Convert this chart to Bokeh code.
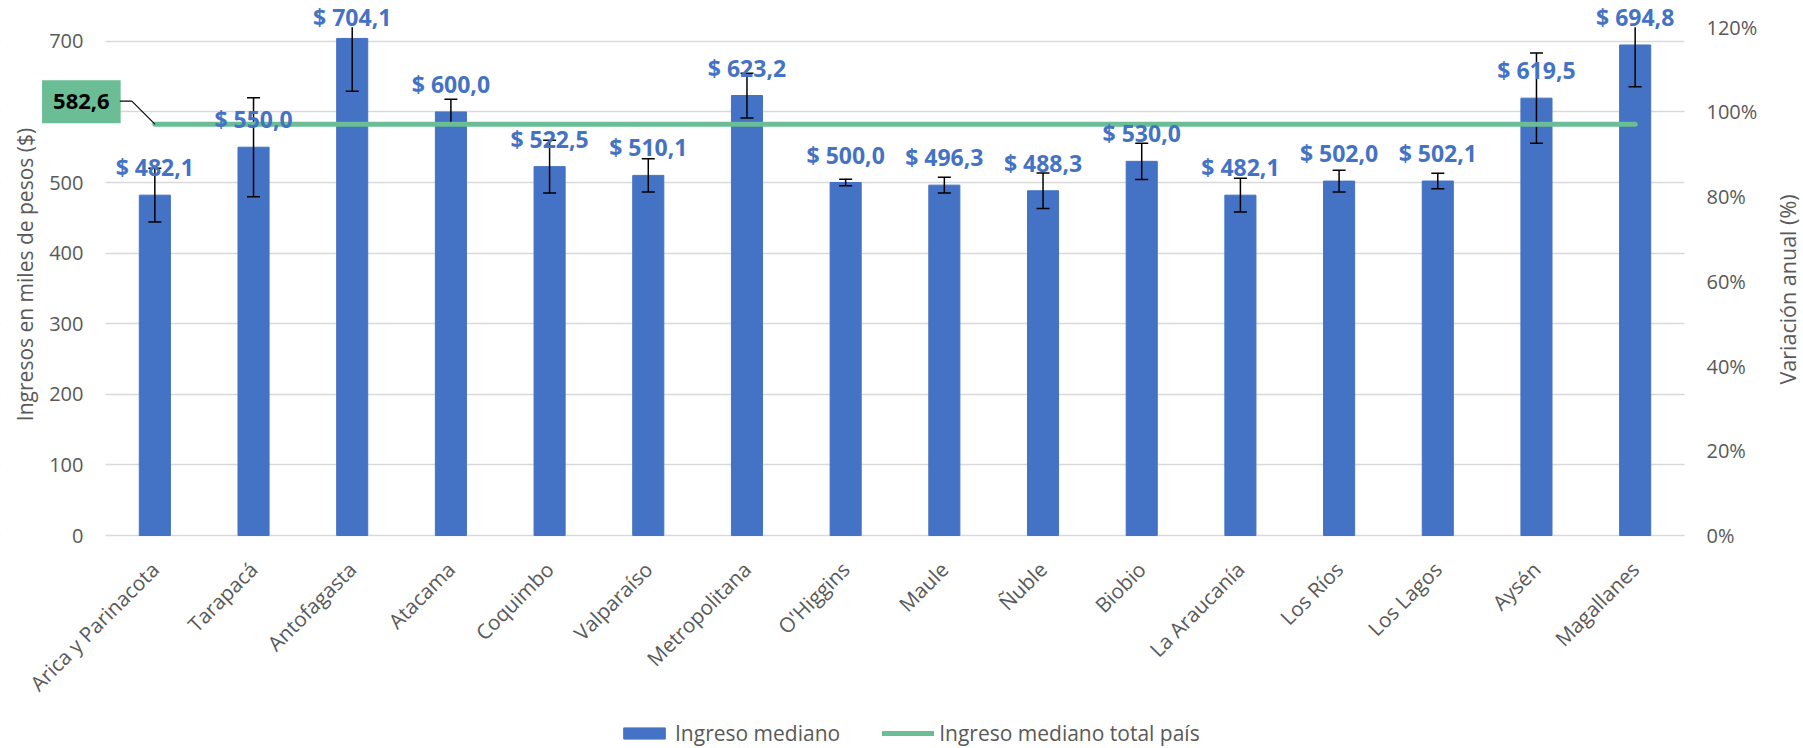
import math
from bokeh.plotting import figure
from bokeh.models import (ColumnDataSource, Range1d, LinearAxis, FixedTicker, BoxAnnotation,
                          NumeralTickFormatter, LabelSet, Label, Arrow, Legend, LegendItem)
from bokeh.embed import file_html
from bokeh.resources import INLINE
from bokeh.core.properties import value

# ---------------- data ----------------
regions = ["Arica y Parinacota", "Tarapacá", "Antofagasta", "Atacama", "Coquimbo",
           "Valparaíso", "Metropolitana", "O'Higgins", "Maule", "Ñuble", "Biobio",
           "La Araucanía", "Los Ríos", "Los Lagos", "Aysén", "Magallanes"]
median_income = [482.1, 550.0, 704.1, 600.0, 522.5, 510.1, 623.2, 500.0,
                 496.3, 488.3, 530.0, 482.1, 502.0, 502.1, 619.5, 694.8]
error_margin = [38.0, 70.0, 75.0, 18.0, 37.5, 23.6, 31.7, 4.7,
                11.0, 25.0, 25.7, 24.0, 15.5, 11.0, 64.0, 59.0]
national_median = 582.6
left_ticks = [0, 100, 200, 300, 400, 500, 600, 700]
right_ticks = [0.0, 0.2, 0.4, 0.6, 0.8, 1.0, 1.2]
axis_max = 720          # value-axis maximum (error bars are cut there)
pct_max = 1.2           # secondary axis maximum

# ---------------- style / layout ----------------
BLUE = "#4472C4"
GREEN = "#6ABD95"
GRID = "#D9D9D9"
TXT = "#595959"
FONT = "Open Sans"

W, H = 1803, 748
PLOT_L, PLOT_R = 105, 1684     # category band
PLOT_T, PLOT_B = 26.7, 535     # value-axis max / zero line

n = len(regions)
cat_px = (PLOT_R - PLOT_L) / n
unit_px = (PLOT_B - PLOT_T) / axis_max
x_start = -PLOT_L / cat_px
x_end = n + (W - PLOT_R) / cat_px
y_start = -(H - PLOT_B) / unit_px
y_end = PLOT_B / unit_px
pct_per_unit = pct_max / axis_max

xpos = [i + 0.5 for i in range(n)]
labels = ["$ " + f"{v:.1f}".replace(".", ",") for v in median_income]
# data labels are kept inside the chart area (as the spreadsheet does)
label_cap = (PLOT_B - 44) / unit_px
label_y = [min(m, label_cap) for m in median_income]
lo = [m - e for m, e in zip(median_income, error_margin)]
hi = [min(m + e, axis_max) for m, e in zip(median_income, error_margin)]
cap_x = [x for x, m, e in zip(xpos, median_income, error_margin) if m + e <= axis_max]
cap_hi = [m + e for m, e in zip(median_income, error_margin) if m + e <= axis_max]

src = ColumnDataSource(dict(x=xpos, region=regions, median=median_income,
                            label=labels, label_y=label_y, lo=lo, hi=hi))

p = figure(x_range=Range1d(x_start, x_end), y_range=Range1d(y_start, y_end),
           width=W, height=H, output_backend="svg", toolbar_location=None,
           min_border_left=0, min_border_right=0, min_border_top=0, min_border_bottom=0)
p.outline_line_color = None
p.background_fill_color = "white"
p.border_fill_color = "white"

p.xgrid.grid_line_color = None
p.ygrid.ticker = FixedTicker(ticks=left_ticks)
p.ygrid.grid_line_color = GRID
p.ygrid.grid_line_width = 1.5

# white bands outside the category area (grid only spans the categories)
p.add_layout(BoxAnnotation(right=0, fill_color="white", fill_alpha=1.0,
                           line_color=None, level="underlay"))
p.add_layout(BoxAnnotation(left=n, fill_color="white", fill_alpha=1.0,
                           line_color=None, level="underlay"))

# left value axis
yax = p.yaxis[0]
yax.ticker = FixedTicker(ticks=left_ticks)
yax.axis_line_color = None
yax.major_tick_line_color = None
yax.minor_tick_line_color = None
yax.major_tick_out = 0
yax.major_tick_in = 0
yax.major_label_standoff = -83
yax.major_label_text_font = FONT
yax.major_label_text_font_size = "20px"
yax.major_label_text_color = TXT

# category axis
xax = p.xaxis[0]
xax.ticker = FixedTicker(ticks=xpos)
xax.major_label_overrides = {x: r for x, r in zip(xpos, regions)}
xax.axis_line_color = None
xax.major_tick_line_color = None
xax.minor_tick_line_color = None
xax.major_tick_out = 0
xax.major_tick_in = 0
xax.major_label_orientation = math.pi / 4
xax.major_label_standoff = -(H - PLOT_B) + 30
xax.major_label_text_font = FONT
xax.major_label_text_font_size = "20.6px"
xax.major_label_text_color = TXT

# right percentage axis
p.extra_y_ranges = {"pct": Range1d(y_start * pct_per_unit, y_end * pct_per_unit)}
rax = LinearAxis(y_range_name="pct", ticker=FixedTicker(ticks=right_ticks),
                 formatter=NumeralTickFormatter(format="0%"))
rax.axis_line_color = None
rax.major_tick_line_color = None
rax.minor_tick_line_color = None
rax.major_tick_out = 0
rax.major_tick_in = 0
rax.major_label_standoff = 1706 - W
rax.major_label_text_font = FONT
rax.major_label_text_font_size = "20px"
rax.major_label_text_color = TXT
p.add_layout(rax, "right")

# axis titles
p.add_layout(Label(x=24, y=H - 274, x_units="screen", y_units="screen",
                   text="Ingresos en miles de pesos ($)", angle=math.pi / 2,
                   text_align="center", text_baseline="middle",
                   text_font=FONT, text_font_size="21px", text_color=TXT))
p.add_layout(Label(x=1787, y=H - 289, x_units="screen", y_units="screen",
                   text="Variación anual (%)", angle=math.pi / 2,
                   text_align="center", text_baseline="middle",
                   text_font=FONT, text_font_size="21.5px", text_color=TXT))

# bars
bars = p.vbar(x="x", top="median", width=0.315, source=src,
              fill_color=BLUE, line_color=BLUE)

# error bars
p.segment(x0="x", y0="lo", x1="x", y1="hi", source=src,
          line_color="black", line_width=1.5)
p.dash(x="x", y="lo", source=src, size=13, line_color="black", line_width=1.5)
p.dash(x=cap_x, y=cap_hi, size=13, line_color="black", line_width=1.5)

# national median line
line = p.line(x=[xpos[0], xpos[-1]], y=[national_median, national_median],
              line_color=GREEN, line_width=5, line_cap="round")

# data labels
ls = LabelSet(x="x", y="label_y", text="label", source=src, y_offset=28,
              text_align="center", text_baseline="middle",
              text_font=value(FONT), text_font_style="bold",
              text_font_size="23px", text_color=BLUE)
p.add_layout(ls)

# callout for the national median
callout = Label(x=xpos[0], y=national_median, x_offset=-73.5, y_offset=22.5,
                text=f"{national_median:.1f}".replace(".", ","),
                text_align="center", text_baseline="middle",
                text_font=FONT, text_font_style="bold", text_font_size="22px",
                text_color="black", background_fill_color=GREEN,
                padding=(11, 14))
p.add_layout(callout)

elbow_x = xpos[0] - 23 / cat_px
elbow_y = national_median + 23 / unit_px
edge_x = xpos[0] - 35 / cat_px
p.add_layout(Arrow(end=None, x_start=edge_x, y_start=elbow_y, x_end=elbow_x, y_end=elbow_y,
                   line_color="black", line_width=1.2))
p.add_layout(Arrow(end=None, x_start=elbow_x, y_start=elbow_y, x_end=xpos[0], y_end=national_median,
                   line_color="black", line_width=1.2))

# legend
legend = Legend(items=[LegendItem(label="Ingreso mediano", renderers=[bars]),
                       LegendItem(label="Ingreso mediano total país", renderers=[line])],
                location=(618, 1), orientation="horizontal",
                glyph_width=52, glyph_height=14, label_standoff=5, spacing=42,
                padding=0, margin=0, border_line_color=None, background_fill_alpha=0,
                label_text_font=FONT, label_text_font_size="21px", label_text_color=TXT)
p.add_layout(legend)

open("out.html", "w").write(file_html(p, INLINE))
